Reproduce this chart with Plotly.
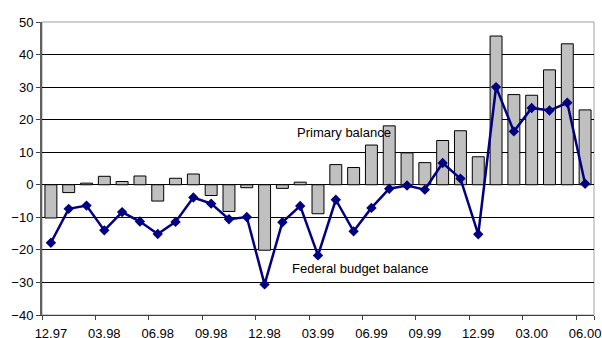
import plotly.graph_objects as go

# Monthly periods, December 1997 to June 2000
months = [
    "12.97", "01.98", "02.98", "03.98", "04.98", "05.98", "06.98", "07.98",
    "08.98", "09.98", "10.98", "11.98", "12.98", "01.99", "02.99", "03.99",
    "04.99", "05.99", "06.99", "07.99", "08.99", "09.99", "10.99", "11.99",
    "12.99", "01.00", "02.00", "03.00", "04.00", "05.00", "06.00",
]

# Primary balance (bars)
primary_balance = [
    -10.2, -2.4, 0.5, 2.6, 1.0, 2.7, -5.0, 2.0, 3.3, -3.3, -8.2, -0.9,
    -20.1, -1.1, 0.8, -8.9, 6.2, 5.3, 12.2, 18.1, 9.8, 6.8, 13.6, 16.6,
    8.6, 45.7, 27.7, 27.5, 35.3, 43.3, 23.0,
]

# Federal budget balance (line)
federal_balance = [
    -17.8, -7.4, -6.4, -14.0, -8.4, -11.3, -15.1, -11.4, -3.9, -5.8, -10.6,
    -9.9, -30.6, -11.5, -6.5, -21.7, -4.6, -14.3, -7.1, -1.2, -0.2, -1.5,
    6.7, 1.9, -15.2, 30.0, 16.4, 23.6, 22.8, 25.2, 0.3,
]

tick_labels = months[::3]
y_ticks = list(range(-40, 51, 10))

font = dict(family="Liberation Sans, Arial, sans-serif", size=13, color="#000000")

fig = go.Figure()

fig.add_trace(go.Bar(
    x=months,
    y=primary_balance,
    name="Primary balance",
    marker=dict(color="#C0C0C0", line=dict(color="#000000", width=1)),
))

fig.add_trace(go.Scatter(
    x=months,
    y=federal_balance,
    name="Federal budget balance",
    mode="lines+markers",
    line=dict(color="#000080", width=2.5),
    marker=dict(symbol="diamond", size=8, color="#000080"),
))

fig.update_layout(
    width=602,
    height=338,
    margin=dict(l=42, r=8, t=22, b=23),
    paper_bgcolor="#FFFFFF",
    plot_bgcolor="#FFFFFF",
    showlegend=False,
    bargap=0.33,
    font=font,
    annotations=[
        dict(x=16.46, y=16.2, text="Primary balance", showarrow=False,
             xref="x", yref="y", font=font),
        dict(x=17.4, y=-25.6, text="Federal budget balance", showarrow=False,
             xref="x", yref="y", font=font),
    ],
    shapes=[
        dict(type="rect", xref="paper", yref="paper", x0=0, y0=0, x1=1, y1=1,
             line=dict(color="#A0A0A0", width=1), layer="below"),
    ],
)

fig.update_xaxes(
    type="category",
    range=[-0.5, 30.5],
    tickmode="array",
    tickvals=tick_labels,
    ticktext=tick_labels,
    tickson="boundaries",
    tickangle=0,
    automargin=False,
    ticks="outside",
    ticklen=4,
    ticklabelstandoff=6,
    tickcolor="#404040",
    showgrid=False,
    showline=True,
    linecolor="#404040",
    linewidth=1,
    tickfont=font,
)

fig.update_yaxes(
    range=[-40, 50],
    tickmode="array",
    tickvals=y_ticks,
    automargin=False,
    ticks="outside",
    ticklen=4,
    tickcolor="#404040",
    showgrid=True,
    gridcolor="#000000",
    gridwidth=1,
    zeroline=False,
    showline=True,
    linecolor="#606060",
    linewidth=2,
    tickfont=font,
)

fig.write_html("out.html")
